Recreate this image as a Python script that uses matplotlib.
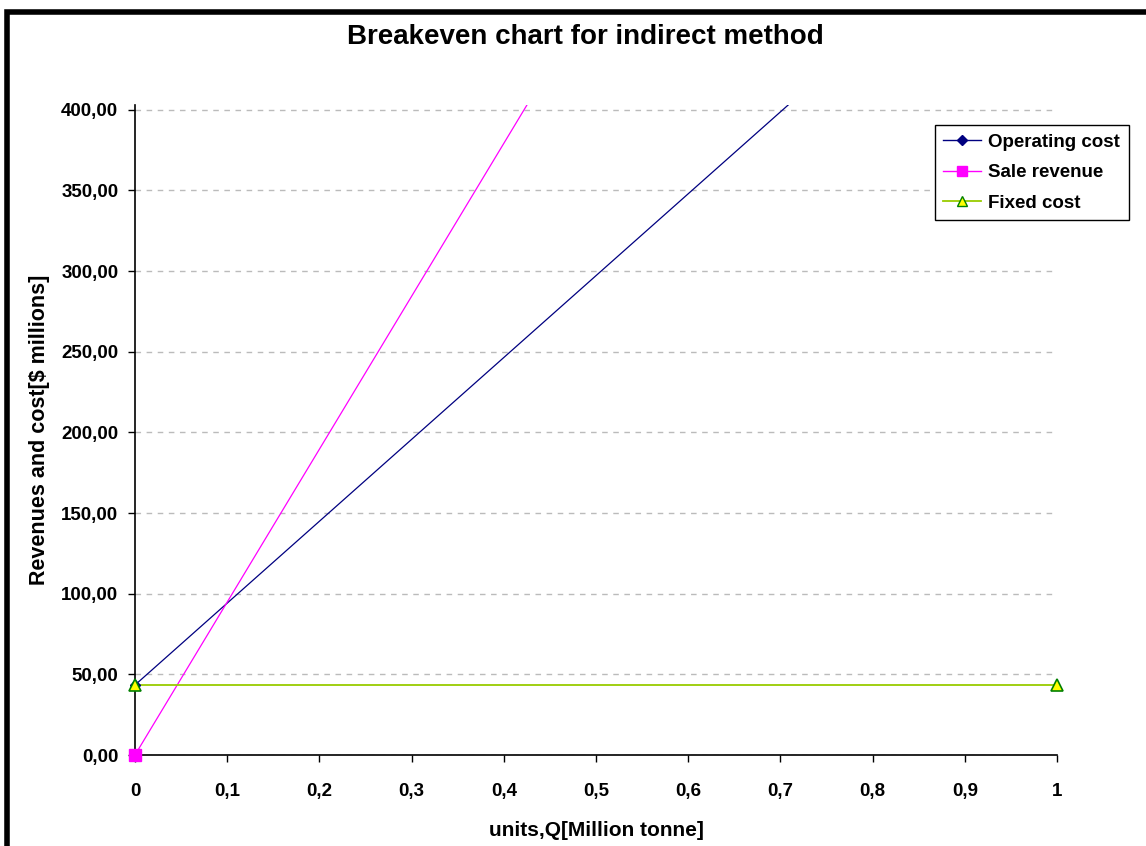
import matplotlib.pyplot as plt
from matplotlib.lines import Line2D
from matplotlib.patches import Rectangle
from matplotlib.ticker import FuncFormatter

# data
units = [0, 1]
operating_cost = [43.4, 551.0]
sale_revenue = [0.0, 948.0]
fixed_cost = [43.4, 43.4]

plt.rcParams['font.family'] = ['Liberation Sans', 'DejaVu Sans']
plt.rcParams['font.weight'] = 'bold'

fig = plt.figure(figsize=(11.46, 8.46), dpi=100)
ax = fig.add_axes([135/1146, 1 - 755/846, 922/1146, 650/846])

# lines (clipped to plot area)
ax.plot(units, operating_cost, color='#000080', lw=0.9, zorder=3)
ax.plot(units, sale_revenue, color='#FF00FF', lw=0.9, zorder=3)
ax.plot(units, fixed_cost, color='#99CC00', lw=1.3, zorder=3)

# markers (not clipped, only visible points)
ax.plot(units, operating_cost, ls='none', marker='D', ms=5, color='#000080',
        markevery=[0], clip_on=False, zorder=4)
ax.plot(units, sale_revenue, ls='none', marker='s', ms=8, color='#FF00FF',
        markevery=[0], clip_on=False, zorder=4)
ax.plot(units, fixed_cost, ls='none', marker='^', ms=8, markerfacecolor='#FFFF00',
        markeredgecolor='#008000', markeredgewidth=1.2, clip_on=False, zorder=5)

ax.set_xlim(0, 1)
ax.set_ylim(0, 403)
ax.set_xticks([i / 10 for i in range(11)])
ax.set_yticks(range(0, 401, 50))
ax.xaxis.set_major_formatter(FuncFormatter(lambda v, p: ('%g' % round(v, 1)).replace('.', ',')))
ax.yaxis.set_major_formatter(FuncFormatter(lambda v, p: ('%.2f' % v).replace('.', ',')))
ax.tick_params(labelsize=13.5, length=5, width=1, direction='out')
ax.tick_params(axis='x', pad=15)
ax.tick_params(axis='y', pad=7)
for lab in ax.get_xticklabels() + ax.get_yticklabels():
    lab.set_fontweight('bold')

ax.yaxis.grid(True, color='#BBBBBB', ls=(0, (4, 4)), lw=1)
ax.set_axisbelow(True)
ax.spines['top'].set_visible(False)
ax.spines['right'].set_visible(False)
ax.spines['left'].set_linewidth(1.2)
ax.spines['bottom'].set_linewidth(1.2)

ax.set_xlabel('units,Q[Million tonne]', fontsize=15, fontweight='bold', labelpad=15)
ax.set_ylabel('Revenues and cost[$ millions]', fontsize=15.5, fontweight='bold', labelpad=8)
fig.text(585/1146, 1 - 37/846, 'Breakeven chart for indirect method', ha='center', va='center',
         fontsize=20, fontweight='bold')

handles = [
    Line2D([], [], color='#000080', lw=1, marker='D', ms=5),
    Line2D([], [], color='#FF00FF', lw=1, marker='s', ms=7),
    Line2D([], [], color='#99CC00', lw=1.3, marker='^', ms=7,
           markerfacecolor='#FFFF00', markeredgecolor='#008000'),
]
leg = ax.legend(handles, ['Operating cost', 'Sale revenue', 'Fixed cost'],
                loc='upper left', bbox_to_anchor=(935/1146, 1 - 125/846),
                bbox_transform=fig.transFigure, fancybox=False, framealpha=1,
                edgecolor='black', prop={'size': 13.5, 'weight': 'bold'},
                handlelength=2.0, borderpad=0.45, labelspacing=0.72, handletextpad=0.4,
                borderaxespad=0)
leg.get_frame().set_linewidth(1)

# thick chart border (left and top visible)
fig.patches.append(Rectangle((7/1146, -0.1), 1.2, 1 - 12/846 + 0.1, transform=fig.transFigure,
                             fill=False, edgecolor='black', lw=4, zorder=10))

fig.savefig('out.png', dpi=100)
